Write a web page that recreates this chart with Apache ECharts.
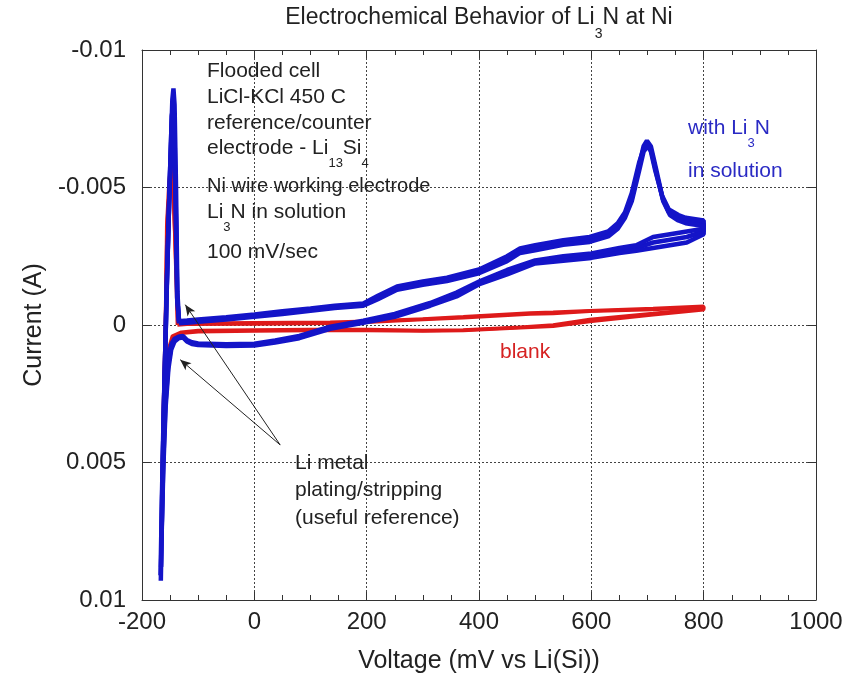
<!DOCTYPE html>
<html>
<head>
<meta charset="utf-8">
<script src="https://cdn.jsdelivr.net/npm/echarts@6/dist/echarts.min.js"></script>
<style>
  html, body { margin: 0; padding: 0; background: #fff; }
  #chart { width: 852px; height: 680px; }
</style>
</head>
<body>
<div id="chart"></div>
<script>
// axis ticks
const xTicks = [-200, 0, 200, 400, 600, 800, 1000]
const yTicks = [-0.01, -0.005, 0, 0.005, 0.01]

// blank (no Li3N) - [mV, A]
const blankCycle1 = [
  [-137, 0.0], [-120, -0.00003], [0, -0.00004], [135, -0.00006], [200, -0.0001], [300, -0.0002],
  [372, -0.00026], [491, -0.0004], [532, -0.00042], [597, -0.0005], [710, -0.00056], [800, -0.00065],
  [800, -0.00055], [710, -0.00037], [597, -0.00013], [532, 0.00005], [473, 0.0001], [372, 0.0002],
  [300, 0.00022], [200, 0.0002], [100, 0.0002], [0, 0.00022], [-100, 0.00025], [-130, 0.0003],
  [-145, 0.0005], [-152, 0.001], [-158, 0.0025], [-163, 0.005], [-165, 0.0072],
  [-162, 0.003], [-159, 0.0005], [-157, -0.0018], [-156, -0.0036], [-152, -0.0052], [-148, -0.0059],
  [-145, -0.0052], [-142, -0.0035], [-139, -0.0015], [-137, 0.0]
]
const blankCycle2 = [
  [-136, -0.00004], [-120, -0.00006], [0, -0.00008], [135, -0.0001], [200, -0.00014], [300, -0.00022],
  [372, -0.0003], [491, -0.00044], [532, -0.00046], [597, -0.00052], [710, -0.0006], [800, -0.00068],
  [800, -0.0006], [710, -0.00042], [597, -0.0002], [532, 0.0], [473, 0.00008], [372, 0.00018],
  [300, 0.0002], [200, 0.00016], [100, 0.00016], [0, 0.00018], [-100, 0.0002], [-130, 0.00026],
  [-146, 0.0004], [-153, 0.0009], [-159, 0.0024], [-163, 0.0045], [-164.5, 0.0066],
  [-161, 0.0025], [-158, 0.0], [-157, -0.002], [-155, -0.0038], [-151, -0.005], [-148, -0.0055],
  [-144, -0.0047], [-141, -0.003], [-138, -0.0012], [-136, -0.00004]
]

// with Li3N in solution - three overlapping cycles [mV, A]
const li3nCycle1 = [
  [-134, -0.0001], [-120, -0.00012], [-100, -0.00016], [-50, -0.00024], [0, -0.00034], [50, -0.00045],
  [100, -0.00056], [143, -0.00066], [194, -0.00074], [220, -0.001], [254, -0.00135], [300, -0.00152],
  [343, -0.00165], [400, -0.00195], [450, -0.0024], [473, -0.0027], [500, -0.0028], [550, -0.003],
  [597, -0.0031], [630, -0.0033], [647, -0.0036], [660, -0.004], [672, -0.0046], [685, -0.0058],
  [693, -0.0065], [699, -0.0067], [706, -0.0065], [715, -0.0057], [727, -0.0046], [738, -0.0041],
  [755, -0.0039], [768, -0.0038], [800, -0.0037],
  [800, -0.0034], [770, -0.0032], [740, -0.0031], [710, -0.003], [680, -0.0028], [650, -0.0027],
  [600, -0.0025], [550, -0.0024], [500, -0.0023], [450, -0.0019], [402, -0.00154], [360, -0.0011],
  [313, -0.00074], [250, -0.00035], [194, -0.00012], [135, 0.0001], [80, 0.00045], [37, 0.0006],
  [0, 0.00072], [-50, 0.00073], [-100, 0.0007], [-111, 0.00066], [-120, 0.00058], [-127, 0.00042],
  [-135, 0.00045], [-142, 0.00055], [-148, 0.0008], [-153, 0.0014], [-158, 0.0028], [-162, 0.0049],
  [-165, 0.0075], [-166.5, 0.0093],
  [-164, 0.006], [-161, 0.003], [-158, 0.0005], [-156, -0.0012], [-151, -0.005], [-146, -0.0082],
  [-144, -0.0086], [-142, -0.008], [-139.4, -0.005], [-137, -0.0012], [-134, -0.0001]
]
const li3nCycle2 = [
  [-134, -0.00014], [-120, -0.00016], [-100, -0.0002], [-50, -0.00028], [0, -0.00038], [50, -0.0005],
  [100, -0.0006], [143, -0.0007], [194, -0.00078], [220, -0.00106], [254, -0.0014], [300, -0.00158],
  [343, -0.00172], [400, -0.00202], [450, -0.0025], [473, -0.00278], [500, -0.0029], [550, -0.00308],
  [597, -0.0032], [630, -0.0034], [647, -0.0037], [660, -0.0041], [672, -0.0048], [685, -0.0059],
  [693, -0.0064], [698, -0.0066], [705, -0.0064], [714, -0.0056], [726, -0.0047], [738, -0.0042],
  [755, -0.004], [768, -0.0039], [800, -0.0038],
  [800, -0.0035], [770, -0.0034], [740, -0.0033], [710, -0.0032], [680, -0.0029], [650, -0.0028],
  [600, -0.0026], [550, -0.0025], [500, -0.00235], [450, -0.002], [402, -0.0016], [360, -0.00118],
  [313, -0.0008], [250, -0.0004], [194, -0.00016], [135, 0.00006], [80, 0.0004], [37, 0.00056],
  [0, 0.00068], [-50, 0.0007], [-100, 0.00067], [-111, 0.00063], [-120, 0.00055], [-127, 0.0004],
  [-135, 0.00043], [-142, 0.0005], [-148, 0.0007], [-153, 0.0012], [-158, 0.0025], [-162, 0.0045],
  [-164.5, 0.0068], [-166, 0.0088],
  [-163.5, 0.0055], [-160.5, 0.0025], [-157.5, 0.0], [-155.5, -0.0018], [-150, -0.0055], [-146, -0.0078],
  [-144.5, -0.0081], [-142.5, -0.0075], [-140, -0.0045], [-137.5, -0.001], [-134, -0.00014]
]
const li3nCycle3 = [
  [-134, -0.00006], [-120, -0.00008], [-100, -0.00012], [-50, -0.0002], [0, -0.0003], [50, -0.0004],
  [100, -0.00052], [143, -0.00062], [194, -0.0007], [220, -0.00094], [254, -0.00128], [300, -0.00146],
  [343, -0.0016], [400, -0.00188], [450, -0.00232], [473, -0.00262], [500, -0.00272], [550, -0.00292],
  [597, -0.00302], [630, -0.00322], [647, -0.0035], [660, -0.0039], [672, -0.0045], [685, -0.0056],
  [693, -0.0063], [700, -0.0065], [707, -0.0063], [716, -0.0055], [728, -0.0045], [740, -0.004],
  [755, -0.0038], [768, -0.0037], [800, -0.0036],
  [800, -0.0033], [770, -0.003], [740, -0.0029], [710, -0.0028], [680, -0.0027], [650, -0.00262],
  [600, -0.00244], [550, -0.00234], [500, -0.00224], [450, -0.00184], [402, -0.0015], [360, -0.00104],
  [313, -0.0007], [250, -0.0003], [194, -0.00008], [135, 0.00014], [80, 0.00048], [37, 0.00064],
  [0, 0.00075], [-50, 0.00076], [-100, 0.00073], [-111, 0.00069], [-120, 0.0006], [-127, 0.00045],
  [-135, 0.00048], [-142, 0.0006], [-148, 0.0009], [-153, 0.0016], [-158, 0.003], [-162, 0.0052],
  [-165.5, 0.008], [-167, 0.0091],
  [-164.5, 0.0062], [-161.5, 0.0032], [-158.5, 0.0008], [-156.5, -0.001], [-151.5, -0.0046], [-147, -0.0076],
  [-145, -0.0079], [-143, -0.0072], [-140, -0.0042], [-137, -0.0009], [-134, -0.00006]
]

// annotation arrows: tail shared, two tips (data coordinates)
const arrowTail = [46, 0.00436]
const arrowTips = [[-123, -0.00074], [-132, 0.00126]]

const FONT = '"Liberation Sans", Arial, Helvetica, sans-serif'
const BLUE = '#1414c8'
const RED = '#de1a1a'

const chart = echarts.init(document.getElementById('chart'))

function txt(x, y, text, size, color, align) {
  return {
    type: 'text', x: x, y: y, z: 100,
    style: {
      text: text, fill: color || '#222', fontSize: size, fontFamily: FONT,
      align: align || 'left', verticalAlign: 'middle',
      rich: {
        s: { fontSize: Math.round(size * 0.62), fontFamily: FONT, fill: color || '#222', padding: [size + 10, 0, 0, 0] }
      }
    }
  }
}

const line = (name, data, color, width) => ({
  name, type: 'line', data, showSymbol: false, symbol: 'none',
  lineStyle: { color, width }, itemStyle: { color }, z: 3, silent: true
})

const tickStyle = { color: '#333' }

chart.setOption({
  animation: false,
  backgroundColor: '#fff',
  grid: { left: 142, right: 36, top: 50, bottom: 80, containLabel: false },
  xAxis: [{
    type: 'value', min: -200, max: 1000, interval: 200,
    name: 'Voltage (mV vs Li(Si))', nameLocation: 'middle', nameGap: 49,
    nameTextStyle: { fontSize: 25, fontFamily: FONT, color: '#222' },
    axisLine: { onZero: false, lineStyle: { color: '#333', width: 1 } },
    axisTick: { inside: true, length: 8, lineStyle: tickStyle },
    minorTick: { show: true, splitNumber: 4, length: 5, lineStyle: tickStyle },
    axisLabel: { fontSize: 24, fontFamily: FONT, color: '#222', margin: 10,
      formatter: v => xTicks.includes(v) ? String(v) : '' },
    splitLine: { show: true, lineStyle: { type: [2, 2], color: '#444', width: 1 } }
  }, {
    type: 'value', position: 'top', min: -200, max: 1000, interval: 200,
    axisLine: { onZero: false, lineStyle: { color: '#333', width: 1 } },
    axisTick: { inside: true, length: 8, lineStyle: tickStyle },
    minorTick: { show: true, splitNumber: 4, length: 5, lineStyle: tickStyle },
    axisLabel: { show: false }, splitLine: { show: false }
  }],
  yAxis: [{
    type: 'value', inverse: true, min: -0.01, max: 0.01, interval: 0.005,
    name: 'Current (A)', nameLocation: 'middle', nameGap: 92,
    nameTextStyle: { fontSize: 25, fontFamily: FONT, color: '#222' },
    axisLine: { show: true, onZero: false, lineStyle: { color: '#333', width: 1 } },
    axisTick: { show: true, inside: true, length: 8, lineStyle: tickStyle },
    axisLabel: { fontSize: 24, fontFamily: FONT, color: '#222', margin: 16,
      formatter: v => yTicks.some(t => Math.abs(t - v) < 1e-9) ? String(+v.toFixed(3)) : '' },
    splitLine: { show: true, lineStyle: { type: [2, 2], color: '#444', width: 1 } }
  }, {
    type: 'value', position: 'right', inverse: true, min: -0.01, max: 0.01, interval: 0.005,
    axisLine: { show: true, onZero: false, lineStyle: { color: '#333', width: 1 } },
    axisTick: { show: true, inside: true, length: 8, lineStyle: tickStyle },
    axisLabel: { show: false }, splitLine: { show: false }
  }],
  series: [
    line('blank 1', blankCycle1, RED, 3.5),
    line('blank 2', blankCycle2, RED, 3.5),
    line('Li3N 1', li3nCycle1, BLUE, 4.5),
    line('Li3N 2', li3nCycle2, BLUE, 4.5),
    {
      ...line('Li3N 3', li3nCycle3, BLUE, 4.5),
      markLine: {
        silent: true, symbol: ['none', 'arrow'], symbolSize: [7, 11],
        label: { show: false },
        lineStyle: { color: '#222', width: 1, type: 'solid' },
        data: arrowTips.map(t => [{ coord: arrowTail }, { coord: t }])
      }
    }
  ],
  graphic: [
    txt(479, 18, 'Electrochemical Behavior of Li{s|3}N at Ni', 23, '#222', 'center'),
    txt(207, 71, 'Flooded cell', 21),
    txt(207, 97, 'LiCl-KCl 450 C', 21),
    txt(207, 123, 'reference/counter', 21),
    txt(207, 148, 'electrode - Li{s|13}Si{s|4}', 21),
    txt(207, 186, 'Ni wire working electrode', 20),
    txt(207, 212, 'Li{s|3}N in solution', 21),
    txt(207, 252, '100 mV/sec', 21),
    txt(688, 128, 'with Li{s|3}N', 21, '#2a2ac4'),
    txt(688, 171, 'in solution', 21, '#2a2ac4'),
    txt(500, 352, 'blank', 21, '#d62222'),
    txt(295, 463, 'Li metal', 21),
    txt(295, 490, 'plating/stripping', 21),
    txt(295, 518, '(useful reference)', 21)
  ]
})
</script>
</body>
</html>
